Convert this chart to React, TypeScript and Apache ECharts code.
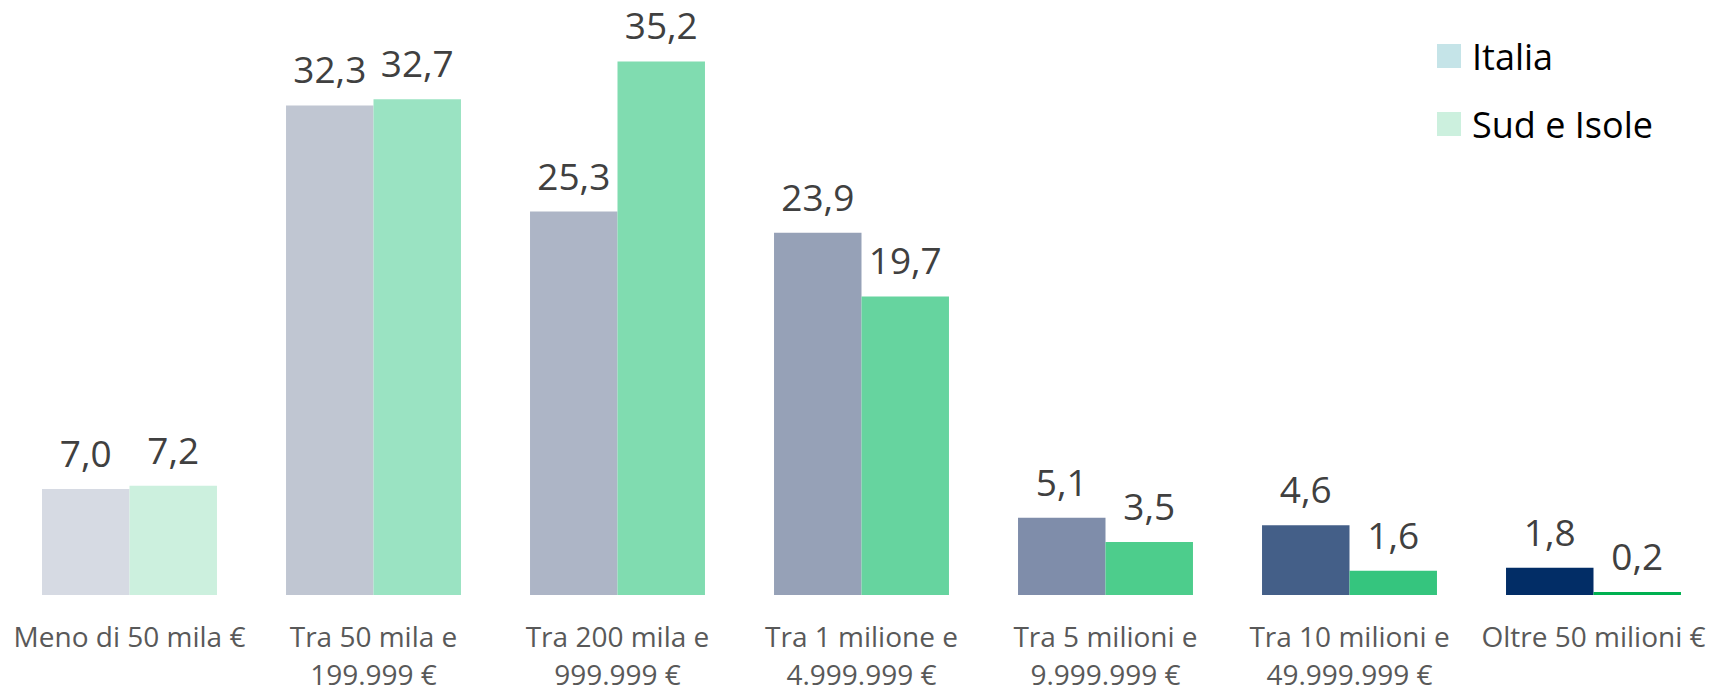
import React, { useEffect, useRef } from "react";
import * as echarts from "echarts";

const categories = [
  "Meno di 50 mila €",
  "Tra 50 mila e\n199.999 €",
  "Tra 200 mila e\n999.999 €",
  "Tra 1 milione e\n4.999.999 €",
  "Tra 5 milioni e\n9.999.999 €",
  "Tra 10 milioni e\n49.999.999 €",
  "Oltre 50 milioni €",
];
const italia = [7.0, 32.3, 25.3, 23.9, 5.1, 4.6, 1.8];
const sudIsole = [7.2, 32.7, 35.2, 19.7, 3.5, 1.6, 0.2];
const seriesNames = ["Italia", "Sud e Isole"];
const legendColors = ["#C5E4E8", "#CCF0DE"];
const italiaColors = ["#D6DAE3", "#C0C6D2", "#ADB5C6", "#96A1B7", "#7F8DAA", "#445F88", "#022D66"];
const sudColors = ["#CCF0DE", "#9AE3C2", "#80DCB0", "#66D49F", "#4DCD8C", "#35C57E", "#00B050"];

const fmt = (v: number) => v.toFixed(1).replace(".", ",");

export default function App() {
  const ref = useRef<HTMLDivElement>(null);
  useEffect(() => {
    if (!ref.current) return;
    const chart = echarts.init(ref.current, null, { renderer: "svg" });
    const labelCfg = {
      show: true,
      position: "top",
      distance: 18,
      fontFamily: "Open Sans",
      fontSize: 37,
      color: "#404040",
      formatter: (p: any) => fmt(p.value),
    };
    chart.setOption({
      animation: false,
      backgroundColor: "#ffffff",
      grid: { left: 7.5, right: 4.5, top: 19, bottom: 92, containLabel: false },
      legend: {
        orient: "vertical",
        left: 1437,
        top: 32,
        padding: 0,
        itemWidth: 24,
        itemHeight: 24,
        itemGap: 20,
        icon: "rect",
        textStyle: {
          fontFamily: "Open Sans",
          fontSize: 36,
          color: "#000000",
          lineHeight: 42,
          padding: [6, 0, 0, 6],
        },
        data: seriesNames,
      },
      xAxis: {
        type: "category",
        data: categories,
        axisLine: { show: false },
        axisTick: { show: false },
        axisLabel: {
          interval: 0,
          margin: 22,
          fontFamily: "Open Sans",
          fontSize: 28,
          lineHeight: 38,
          color: "#595959",
        },
      },
      yAxis: {
        type: "value",
        min: 0,
        max: 38,
        show: false,
        splitLine: { show: false },
      },
      series: [
        {
          name: seriesNames[0],
          type: "bar",
          barGap: "0%",
          barCategoryGap: "28.3%",
          itemStyle: { color: legendColors[0] },
          label: labelCfg,
          data: italia.map((v, i) => ({ value: v, itemStyle: { color: italiaColors[i] } })),
        },
        {
          name: seriesNames[1],
          type: "bar",
          barGap: "0%",
          barCategoryGap: "28.3%",
          itemStyle: { color: legendColors[1] },
          label: labelCfg,
          data: sudIsole.map((v, i) => ({ value: v, itemStyle: { color: sudColors[i] } })),
        },
      ],
    });
    return () => chart.dispose();
  }, []);
  return (
    <div
      ref={ref}
      style={{ position: "absolute", left: 0, top: 0, width: 1720, height: 693 }}
    />
  );
}
